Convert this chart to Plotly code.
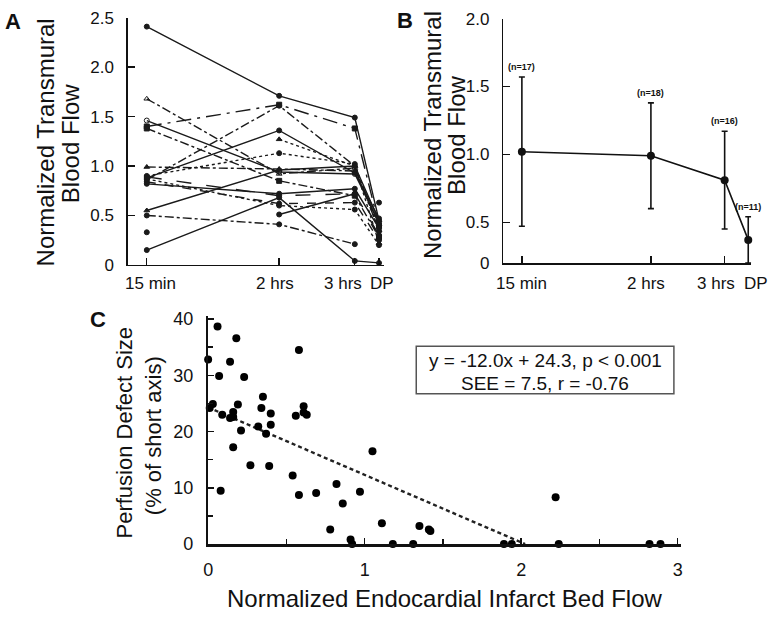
import plotly.graph_objects as go

W, H = 774, 619
FONT = "Liberation Sans, Arial, sans-serif"

# ---------------- Panel A data ----------------
time_labels = ["15 min", "2 hrs", "3 hrs", "DP"]
time_pos = [0.25, 2.0, 3.0, 3.32]

a_series = [
    # values at 15 min, 2 hrs, 3 hrs, DP ; dash ; marker
    ([2.41, 1.71, 1.49, 0.45], "solid", "circle"),
    ([1.40, 1.62, 1.38, 0.40], "longdashdot", "square"),
    ([1.68, 0.92, 0.98, 0.35], "dashdot", "triangle-up-open"),
    ([1.46, 0.94, 0.92, 0.43], "solid", "circle-open"),
    ([1.38, 0.85, 0.70, 0.28], "dashdot", "square"),
    ([0.86, 1.61, 1.00, 0.38], "dashdot", "circle"),
    ([0.88, 1.36, 0.93, 0.47], "solid", "circle"),
    ([0.90, 1.13, 1.02, 0.34], "dot", "circle"),
    ([None, 1.27, 1.00, 0.22], "dot", "triangle-up"),
    ([0.99, 0.97, 0.95, 0.41], "dashdot", "triangle-up"),
    ([0.55, 0.96, 1.00, 0.45], "solid", "triangle-up"),
    ([0.50, 0.41, 0.21, None], "dashdot", "circle"),
    ([0.15, 0.68, 0.04, 0.02], "solid", "circle"),
    ([0.33, None, None, None], "solid", "circle"),
    ([None, 0.51, 0.72, None], "solid", "circle"),
    ([0.84, 0.62, 0.63, 0.25], "dash", "circle"),
    ([0.87, 0.60, 0.56, 0.20], "dot", "circle"),
    ([0.82, 0.72, 0.77, 0.37], "solid", "circle"),
    ([None, None, None, 0.63], "solid", "circle"),
    ([0.89, 0.70, 0.72, 0.30], "longdash", "circle"),
]

# ---------------- Panel B data ----------------
b_mean = [1.02, 0.99, 0.81, 0.37]
b_sd = [0.55, 0.39, 0.36, 0.17]
b_n = ["(n=17)", "(n=18)", "(n=16)", "(n=11)"]

# ---------------- Panel C data ----------------
c_flow = [0.00, 0.06, 0.18, 0.14, 0.07, 0.23, 0.03, 0.01, 0.09, 0.16, 0.14, 0.16,
          0.19, 0.21, 0.16, 0.08, 0.27, 0.35, 0.34, 0.32, 0.37, 0.40, 0.40, 0.39,
          0.58, 0.56, 0.61, 0.61, 0.63, 0.54, 0.58, 0.69, 0.82, 0.86, 0.78, 0.97,
          1.05, 1.11, 0.91, 0.92, 1.18, 1.31, 1.35, 1.41, 1.42, 1.89, 1.94, 2.22,
          2.24, 2.82, 2.89]
c_defect = [32.8, 38.7, 36.6, 32.4, 29.9, 29.7, 24.9, 24.2, 23.0, 23.5, 22.4, 22.6,
            24.8, 20.2, 17.2, 9.5, 14.0, 26.2, 24.2, 20.9, 19.6, 23.2, 21.2, 13.9,
            34.5, 22.8, 24.5, 23.4, 23.0, 12.2, 8.7, 9.1, 10.7, 7.2, 2.6, 9.3,
            16.5, 3.7, 0.8, 0.0, 0.0, 0.0, 3.2, 2.6, 2.3, 0.0, 0.0, 8.3,
            0.0, 0.0, 0.0]
fit_slope = -12.0
fit_intercept = 24.3


def px(x):
    return x / W


def py(y):
    return 1 - y / H


fig = go.Figure()

for vals, dash, sym in a_series:
    fig.add_trace(go.Scatter(
        x=time_pos, y=vals, mode="lines+markers", xaxis="x", yaxis="y",
        line=dict(color="#1a1a1a", width=1.4, dash=dash),
        marker=dict(symbol=sym, size=5, color="#1a1a1a",
                    line=dict(color="#1a1a1a", width=1)),
        connectgaps=False, cliponaxis=False, showlegend=False))

fig.add_trace(go.Scatter(
    x=time_pos, y=b_mean, mode="lines+markers", xaxis="x2", yaxis="y2",
    line=dict(color="#111", width=1.6),
    marker=dict(size=8, color="#111"),
    error_y=dict(type="data", array=b_sd, color="#111", thickness=1.6, width=3),
    cliponaxis=False, showlegend=False))

fit_x = [0, -fit_intercept / fit_slope]
fit_y = [fit_intercept + fit_slope * v for v in fit_x]
fig.add_trace(go.Scatter(
    x=fit_x, y=fit_y, mode="lines", xaxis="x3", yaxis="y3",
    line=dict(color="#222", width=2.4, dash="4px,3px"), showlegend=False))
fig.add_trace(go.Scatter(
    x=c_flow, y=c_defect, mode="markers", xaxis="x3", yaxis="y3",
    marker=dict(size=8, color="#000"), cliponaxis=False, showlegend=False))

axis_common = dict(showgrid=False, zeroline=False, showline=True, linecolor="#111",
                   ticks="inside", tickcolor="#111", tickwidth=1.4, fixedrange=True)

tick_font = dict(family=FONT, size=17, color="#111")
c_tick_font = dict(family=FONT, size=18, color="#111")

fig.update_layout(
    width=W, height=H, margin=dict(l=0, r=0, t=0, b=0),
    paper_bgcolor="white", plot_bgcolor="white", showlegend=False,
    xaxis=dict(domain=[px(124), px(382)], range=[0, 3.38], anchor="y",
               tickvals=time_pos, showticklabels=False, ticklen=7,
               linewidth=1.6, **axis_common),
    yaxis=dict(domain=[py(264), py(9)], range=[0, 2.5], anchor="x",
               tickvals=[0, 0.5, 1.0, 1.5, 2.0, 2.5],
               ticktext=["0", "0.5", "1.0", "1.5", "2.0", "2.5"], ticklen=7,
               tickfont=tick_font, linewidth=1.6, ticklabelstandoff=9, **axis_common),
    xaxis2=dict(domain=[px(503), px(753)], range=[0, 3.36], anchor="y2",
                tickvals=time_pos, showticklabels=False, ticklen=7,
                linewidth=1.6, **axis_common),
    yaxis2=dict(domain=[py(262), py(10)], range=[0.2, 2.0], anchor="x2",
                tickvals=[0.2, 0.5, 1.0, 1.5, 2.0],
                ticktext=["0", "0.5", "1.0", "1.5", "2.0"], ticklen=7,
                tickfont=tick_font, linewidth=1.6, ticklabelstandoff=9, **axis_common),
    xaxis3=dict(domain=[px(205), px(682)], range=[0, 3.02], anchor="y3",
                tickvals=[0, 1, 2, 3], tickfont=c_tick_font, ticklen=6,
                linewidth=2.6, ticklabelstandoff=8,
                minor=dict(dtick=0.5, ticks="inside", ticklen=5, tickcolor="#111"),
                **axis_common),
    yaxis3=dict(domain=[py(552), py(317)], range=[0, 40.5], anchor="x3",
                tickvals=[0, 10, 20, 30, 40], tickfont=c_tick_font, ticklen=6,
                linewidth=2.2, ticklabelstandoff=9,
                minor=dict(dtick=5, ticks="inside", ticklen=5, tickcolor="#111"),
                **axis_common),
)

annotations = []


def add_text(text, x, y, size, angle=0, bold=False):
    annotations.append(dict(
        text=f"<b>{text}</b>" if bold else text, x=px(x), y=py(y),
        xref="paper", yref="paper", showarrow=False, textangle=angle,
        xanchor="center", yanchor="middle",
        font=dict(family=FONT, size=size, color="#111")))


# Panel letters
add_text("A", 8, 13, 22, bold=True)
add_text("B", 404, 12, 22, bold=True)
add_text("C", 94, 320, 22, bold=True)

# Axis titles
add_text("Normalized Transmural", 41, 138, 24, angle=-90)
add_text("Blood Flow", 66, 139, 24, angle=-90)
add_text("Normalized Transmural", 431, 130, 24, angle=-90)
add_text("Blood Flow", 455, 130, 24, angle=-90)
add_text("Perfusion Defect Size", 121, 437, 22, angle=-90)
add_text("(% of short axis)", 150, 440, 22, angle=-90)
add_text("Normalized Endocardial Infarct Bed Flow", 444, 608, 24)

# Equation box text
add_text("y = -12.0x + 24.3, p &lt; 0.001", 545, 363, 19)
add_text("SEE = 7.5, r = -0.76", 545, 386, 19)

# time-axis labels for A and B (slightly offset like the original)
a_shift = [4, -4, -12, 3]
b_shift = [0, -5, -9, 8]
for ax, shifts in (("x", a_shift), ("x2", b_shift)):
    for xv, lab, sh in zip(time_pos, time_labels, shifts):
        annotations.append(dict(
            text=lab, x=xv, y=py(283), xref=ax, yref="paper", xshift=sh,
            showarrow=False, xanchor="center", yanchor="middle",
            font=dict(family=FONT, size=17, color="#111")))

# n labels above error bars in B
for xv, m, s, lab in zip(time_pos, b_mean, b_sd, b_n):
    annotations.append(dict(
        text=f"<b>{lab}</b>", x=xv, y=m + s, xref="x2", yref="y2",
        showarrow=False, yshift=10, xanchor="center", yanchor="middle",
        font=dict(family=FONT, size=9, color="#111")))

fig.update_layout(annotations=annotations)

fig.add_shape(type="rect", xref="paper", yref="paper",
              x0=px(415), x1=px(675), y0=py(397), y1=py(348),
              line=dict(color="#555", width=1.5), fillcolor="white", layer="above")

fig.write_html("out.html", config={"displayModeBar": False, "staticPlot": True},
               post_script="document.body.style.margin='0';document.body.style.overflow='hidden';")
